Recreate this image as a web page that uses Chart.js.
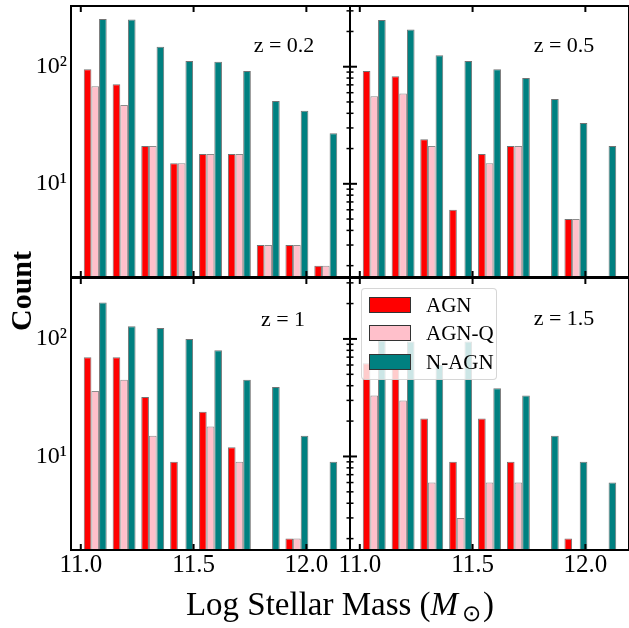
<!DOCTYPE html>
<html>
<head>
<meta charset="utf-8">
<script src="https://cdn.jsdelivr.net/npm/chart.js@4.4.0/dist/chart.umd.min.js"></script>
<style>
  html, body { margin: 0; padding: 0; background: #fff; }
  body { width: 629px; height: 628px; position: relative; overflow: hidden; font-family: "Liberation Serif", serif; color: #000; }
  .panel { position: absolute; }
  .zlab { position: absolute; font-size: 22px; transform: translate(-50%, -50%); white-space: nowrap; }
  #ylab { position: absolute; left: 21px; top: 291px; font-size: 30px; font-weight: bold; transform: translate(-50%, -50%) rotate(-90deg); white-space: nowrap; }
  #xlab { position: absolute; left: 340px; top: 606px; font-size: 33px; transform: translate(-50%, -50%); white-space: nowrap; }
  #xlab sub { font-size: 23px; vertical-align: -6px; margin-left: 4px; margin-right: 2px; }
  #legend { position: absolute; left: 361px; top: 288px; width: 134px; height: 90px; background: rgba(255,255,255,0.8); border: 1px solid rgba(204,204,204,0.8); border-radius: 4px; }
  .row { position: absolute; left: 7px; height: 15px; }
  .patch { position: absolute; left: 0; top: 0; width: 40px; height: 14px; border: 1px solid #333; }
  .lt { position: absolute; left: 57px; top: 50%; transform: translateY(-50%); font-size: 21px; white-space: nowrap; line-height: 1; }
</style>
</head>
<body>

<div class="panel" style="left:0px; top:0px;"><canvas id="c02" width="352" height="280"></canvas></div>
<div class="panel" style="left:340px; top:0px;"><canvas id="c05" width="289" height="280"></canvas></div>
<div class="panel" style="left:0px; top:270px;"><canvas id="c1" width="352" height="320"></canvas></div>
<div class="panel" style="left:280px; top:270px;"><canvas id="c15" width="349" height="320"></canvas></div>

<div class="zlab" style="left:284px; top:45px;">z = 0.2</div>
<div class="zlab" style="left:564px; top:45px;">z = 0.5</div>
<div class="zlab" style="left:283px; top:319px;">z = 1</div>
<div class="zlab" style="left:564px; top:318px;">z = 1.5</div>

<div id="legend">
  <div class="row" style="top:8px;"><span class="patch" style="background:#ff0000;"></span><span class="lt">AGN</span></div>
  <div class="row" style="top:36px;"><span class="patch" style="background:#ffc0cb;"></span><span class="lt">AGN-Q</span></div>
  <div class="row" style="top:65px;"><span class="patch" style="background:#008080;"></span><span class="lt">N-AGN</span></div>
</div>

<div id="ylab">Count</div>
<div id="xlab">Log Stellar Mass (<i>M</i><sub>⊙</sub>)</div>

<script>
// bins of log stellar mass (centres)
const binCenters = [11.064, 11.192, 11.319, 11.447, 11.575, 11.703, 11.831, 11.958, 12.086];
const xTicks = [11.0, 11.5, 12.0];
const yLabelTicks = [10, 100];
const yMinorTicks = [2, 3, 4, 5, 6, 7, 8, 9, 20, 30, 40, 50, 60, 70, 80, 90, 200, 300];

// z = 0.2
const agn_z02  = [95, 71, 21, 15, 18, 18, 3, 3, 2];
const agnq_z02 = [68, 47, 21, 15, 18, 18, 3, 3, 2];
const nagn_z02 = [256, 253, 148, 112, 110, 92, 51, 42, 27];
// z = 0.5
const agn_z05  = [92, 83, 24, 6, 18, 21, null, 5, null];
const agnq_z05 = [56, 59, 21, null, 15, 21, null, 5, null];
const nagn_z05 = [250, 208, 125, 112, 95, 80, 53, 33, 21];
// z = 1
const agn_z1  = [70, 70, 32, 9, 24, 12, null, 2, null];
const agnq_z1 = [36, 45, 15, null, 18, 9, null, 2, null];
const nagn_z1 = [204, 128, 124, 100, 80, 45, 39, 15, 9];
// z = 1.5
const agn_z15  = [62, 58, 21, 9, 21, 9, null, 2, null];
const agnq_z15 = [33, 30, 6, 3, 6, 6, null, null, null];
const nagn_z15 = [97, 95, 60, 95, 38, 33, 15, 9, 6];

const serif = 'Liberation Serif';

function pts(vals) {
	return binCenters.map((x, i) => ({x: x, y: vals[i]}));
}

// spines and inward tick marks
const frame = {
	id: 'frame',
	afterDatasetsDraw(chart, args, o) {
		const ctx = chart.ctx, a = chart.chartArea;
		const x = chart.scales.x, y = chart.scales.y;
		const line = (x1, y1, x2, y2) => { ctx.beginPath(); ctx.moveTo(x1, y1); ctx.lineTo(x2, y2); ctx.stroke(); };
		ctx.save();
		ctx.strokeStyle = '#000';
		ctx.lineWidth = 2;
		xTicks.forEach(v => {
			const px = x.getPixelForValue(v);
			line(px, a.bottom, px, a.bottom - 6);
			line(px, a.top, px, a.top + 6);
		});
		const sx = o.side === 'right' ? a.right : a.left;
		const dir = o.side === 'right' ? -1 : 1;
		yLabelTicks.forEach(v => {
			const py = y.getPixelForValue(v);
			line(sx, py, sx + dir * 7, py);
		});
		ctx.lineWidth = 1.5;
		yMinorTicks.forEach(v => {
			const py = y.getPixelForValue(v);
			line(sx, py, sx + dir * 3.5, py);
		});
		ctx.lineWidth = 2;
		ctx.strokeRect(a.left, a.top, a.right - a.left, a.bottom - a.top);
		ctx.restore();
	}
};

function panel(id, agn, agnq, nagn, showX, showY, pad, side) {
	new Chart(document.getElementById(id), {
		type: 'bar',
		data: {
			datasets: [{
				label: 'AGN',
				data: pts(agn),
				backgroundColor: '#ff0000',
				borderColor: 'rgba(0,0,0,0.55)',
				borderWidth: 1,
				categoryPercentage: 0.8,
				barPercentage: 1.0
			}, {
				label: 'AGN-Q',
				data: pts(agnq),
				backgroundColor: '#ffc0cb',
				borderColor: 'rgba(0,0,0,0.45)',
				borderWidth: 1,
				categoryPercentage: 0.8,
				barPercentage: 1.0
			}, {
				label: 'N-AGN',
				data: pts(nagn),
				backgroundColor: '#008080',
				borderColor: 'rgba(0,0,0,0.55)',
				borderWidth: 1,
				categoryPercentage: 0.8,
				barPercentage: 1.0
			}]
		},
		options: {
			responsive: false,
			animation: false,
			layout: {padding: pad},
			plugins: {
				legend: {display: false},
				tooltip: {enabled: false},
				frame: {side: side}
			},
			scales: {
				x: {
					type: 'linear',
					min: 10.9566,
					max: 12.1934,
					offset: false,
					display: showX,
					grid: {display: false, drawTicks: false},
					border: {display: false},
					afterBuildTicks: s => { s.ticks = xTicks.map(v => ({value: v})); },
					afterFit: s => {
						s.height = showX ? 40 : 0;
						s.paddingLeft = 0;
						s.paddingRight = 0;
					},
					ticks: {
						autoSkip: false,
						maxRotation: 0,
						padding: 0,
						color: '#000',
						font: {family: serif, size: 25},
						callback: v => v.toFixed(1)
					}
				},
				y: {
					type: 'logarithmic',
					min: 1.6,
					max: 330,
					display: showY,
					grid: {display: false, drawTicks: false},
					border: {display: false},
					afterBuildTicks: s => { s.ticks = yLabelTicks.map(v => ({value: v})); },
					afterFit: s => {
						s.width = showY ? 71 : 0;
						s.paddingTop = 0;
						s.paddingBottom = 0;
					},
					ticks: {
						autoSkip: false,
						padding: 4,
						color: '#000',
						font: {family: serif, size: 24},
						callback: v => (v === 10 ? '10\u00B9' : (v === 100 ? '10\u00B2' : ''))
					}
				}
			}
		},
		plugins: [frame]
	});
}

panel('c02', agn_z02, agnq_z02, nagn_z02, false, true, {top: 6, right: 2, bottom: 3, left: 0}, 'right');
panel('c05', agn_z05, agnq_z05, nagn_z05, false, false, {top: 6, right: 0, bottom: 3, left: 10}, 'left');
panel('c1', agn_z1, agnq_z1, nagn_z1, true, true, {top: 8, right: 2, bottom: 0, left: 0}, 'right');
panel('c15', agn_z15, agnq_z15, nagn_z15, true, false, {top: 8, right: 0, bottom: 0, left: 70}, 'left');
</script>
</body>
</html>
